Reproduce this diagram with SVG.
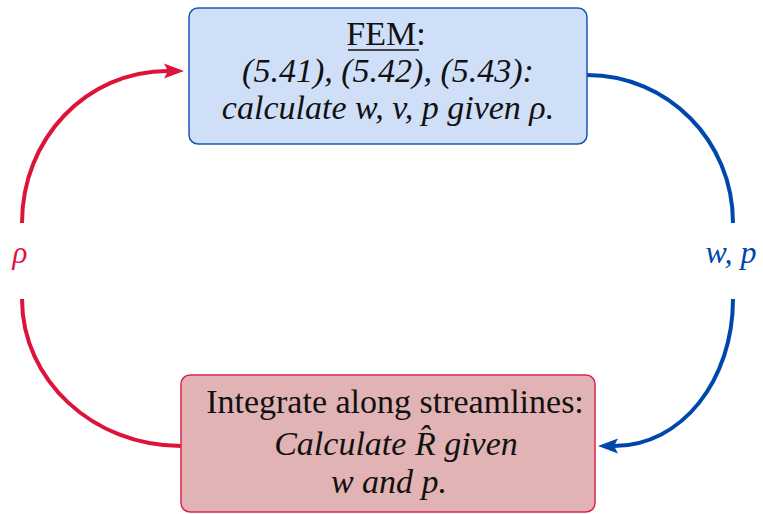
<svg xmlns="http://www.w3.org/2000/svg" width="763" height="514" viewBox="0 0 763 514">
<defs>
<style>
.t{font-family:"Liberation Serif","DejaVu Serif",serif;font-size:34px;fill:#111;text-anchor:middle}
.i{font-style:italic}
.red{stroke:#DC143C;fill:none;stroke-width:4}
.blue{stroke:#0047AB;fill:none;stroke-width:4}
</style>
<marker id="ar" markerUnits="userSpaceOnUse" markerWidth="24" markerHeight="20" viewBox="0 -10 24 20" refX="4" refY="0" orient="auto">
<path d="M20,0 L0,-7.5 L4,0 L0,7.5 Z" fill="#DC143C"/>
</marker>
<marker id="ab" markerUnits="userSpaceOnUse" markerWidth="24" markerHeight="20" viewBox="0 -10 24 20" refX="4" refY="0" orient="auto">
<path d="M20,0 L0,-7.5 L4,0 L0,7.5 Z" fill="#0047AB"/>
</marker>
</defs>
<rect width="763" height="514" fill="#fff"/>
<g id="connectors">
<path class="red" d="M22,223 C22,139 86,71 168,71" marker-end="url(#ar)"/>
<path class="red" d="M22,299 C22,380 93,446 181,446"/>
<path class="blue" d="M587,75 C668,75 733,141 733,223"/>
<path class="blue" d="M733,299 C733,380 682,446 614,446" marker-end="url(#ab)"/>
<text class="t i" x="20" y="263" style="fill:#DC143C;font-size:31px">ρ</text>
<text class="t i" x="731" y="263" style="fill:#0047AB;font-size:32px">w, p</text>
</g>
<g id="fem">
<rect x="189" y="8" width="398" height="136" rx="9" fill="#CFDFF8" stroke="#1B57B5" stroke-width="1.5"/>
<text class="t" x="386" y="45">FEM:</text>
<line x1="348" y1="50" x2="419" y2="50" stroke="#111" stroke-width="1.3"/>
<text class="t i" x="388" y="82">(5.41), (5.42), (5.43):</text>
<text class="t i" x="388" y="119">calculate w, v, p given ρ.</text>
</g>
<g id="integrate">
<rect x="181" y="375" width="414" height="137" rx="9" fill="#E2B3B4" stroke="#D9274F" stroke-width="1.5"/>
<text class="t" x="395" y="413">Integrate along streamlines:</text>
<text class="t i" x="396" y="455">Calculate R̂ given</text>
<text class="t i" x="389" y="493">w and p.</text>
</g>
</svg>
